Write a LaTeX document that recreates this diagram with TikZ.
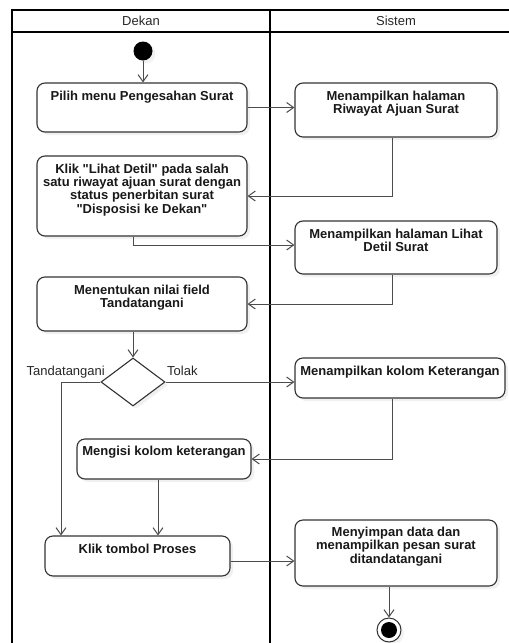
\documentclass[tikz,border=0pt]{standalone}
\usepackage{fontspec}
\setmainfont{Liberation Sans}[Ligatures=TeXOff]
\usetikzlibrary{arrows.meta,shapes.geometric,shadows}

\begin{document}
\begin{tikzpicture}[x=1pt,y=-1pt,
  lane/.style={line width=2pt, draw=black},
  act/.style={draw=black!80, line width=1.1pt, rounded corners=8pt, fill=white,
    drop shadow={shadow xshift=3pt, shadow yshift=-3pt, opacity=0.12},
    inner sep=0pt},
  acttext/.style={anchor=north, align=center, inner sep=0pt,
    font=\fontsize{13}{13.4}\selectfont\bfseries, text=black!90},
  flow/.style={draw=black!70, line width=1pt,
    -{Straight Barb[length=7pt,width=10pt]}},
  lbl/.style={font=\fontsize{13}{15}\selectfont, inner sep=0pt, text=black!85},
]
\useasboundingbox (0,0) rectangle (509,643);
\clip (0,0) rectangle (509,643);

% swimlanes
\draw[lane] (12,10) rectangle (560,700);
\draw[lane] (12,32) -- (560,32);
\draw[lane] (270,10) -- (270,700);
\node[lbl] (hd) at (141,21) {Dekan};
\node[lbl] (hs) at (396,21) {Sistem};

% start
\node[circle, fill=black, minimum size=19pt, inner sep=0pt,
  drop shadow={shadow xshift=3pt, shadow yshift=-3pt, opacity=0.10}] (s) at (143,51) {};

% activities
\node[act, minimum width=210pt, minimum height=49pt] (n1) at (142,107.5) {};
\node[acttext] (n1t) at ([yshift=-8pt]n1.north) {Pilih menu Pengesahan Surat};

\node[act, minimum width=202pt, minimum height=54pt] (n2) at (396,110) {};
\node[acttext] (n2t) at ([yshift=-8pt]n2.north) {Menampilkan halaman\\Riwayat Ajuan Surat};

\node[act, minimum width=210pt, minimum height=80pt] (n3) at (142,196) {};
\node[acttext] (n3t) at ([yshift=-8pt]n3.north) {Klik "Lihat Detil" pada salah\\satu riwayat ajuan surat dengan\\status penerbitan surat\\"Disposisi ke Dekan"};

\node[act, minimum width=202pt, minimum height=53pt] (n4) at (396,247.5) {};
\node[acttext] (n4t) at ([yshift=-8pt]n4.north) {Menampilkan halaman Lihat\\Detil Surat};

\node[act, minimum width=210pt, minimum height=54pt] (n5) at (142,304) {};
\node[acttext] (n5t) at ([yshift=-8pt]n5.north) {Menentukan nilai field\\Tandatangani};

\node[diamond, draw=black!80, line width=1.1pt, fill=white, inner sep=0pt,
  minimum width=64pt, minimum height=48pt,
  drop shadow={shadow xshift=3pt, shadow yshift=-3pt, opacity=0.12}] (d) at (133,382) {};

\node[act, minimum width=210pt, minimum height=40pt] (n6) at (400,378) {};
\node[acttext] (n6t) at ([yshift=-8pt]n6.north) {Menampilkan kolom Keterangan};

\node[act, minimum width=174pt, minimum height=40pt] (n7) at (164,459) {};
\node[acttext] (n7t) at ([yshift=-7pt]n7.north) {Mengisi kolom keterangan};

\node[act, minimum width=185pt, minimum height=40pt] (n8) at (137.5,556) {};
\node[acttext] (n8t) at ([yshift=-8pt]n8.north) {Klik tombol Proses};

\node[act, minimum width=202pt, minimum height=66pt] (n9) at (396,553) {};
\node[acttext] (n9t) at ([yshift=-7.5pt]n9.north) {Menyimpan data dan\\menampilkan pesan surat\\ditandatangani};

% end
\node[circle, draw=black!80, line width=1pt, fill=white, minimum size=24pt, inner sep=0pt,
  drop shadow={shadow xshift=3pt, shadow yshift=-3pt, opacity=0.10}] (e) at (389,630) {};
\node[circle, fill=black, minimum size=16pt, inner sep=0pt] (ei) at (e) {};

% guard labels
\node[lbl, anchor=base east] (lt) at (105,375) {Tandatangani};
\node[lbl, anchor=base west] (lk) at (167,375) {Tolak};

% routing columns
\coordinate (sx) at (392,0);
\coordinate (tx) at (61,0);
\coordinate (mx) at (158,0);

% flows
\draw[flow] (s) -- (n1.north -| s);
\draw[flow] (n1.east) -- (n1.east -| n2.west);
\draw[flow] (n2.south -| sx) |- (n3.east);
\draw[flow] (n3.south -| d) |- ([yshift=2.5pt]n4.west);
\draw[flow] (n4.south -| sx) |- (n5.east);
\draw[flow] (n5.south -| d) -- (d.north);
\draw[flow] (d.east) -- (d.east -| n6.west);
\draw[flow] (d.west) -| (n8.north -| tx);
\draw[flow] (n6.south -| sx) |- (n7.east);
\draw[flow] (n7.south -| mx) -- (n8.north -| mx);
\draw[flow] ([yshift=-5pt]n8.east) -- ([yshift=-5pt]n8.east -| n9.west);
\draw[flow] (n9.south -| e) -- (e.north);
\end{tikzpicture}
\end{document}
